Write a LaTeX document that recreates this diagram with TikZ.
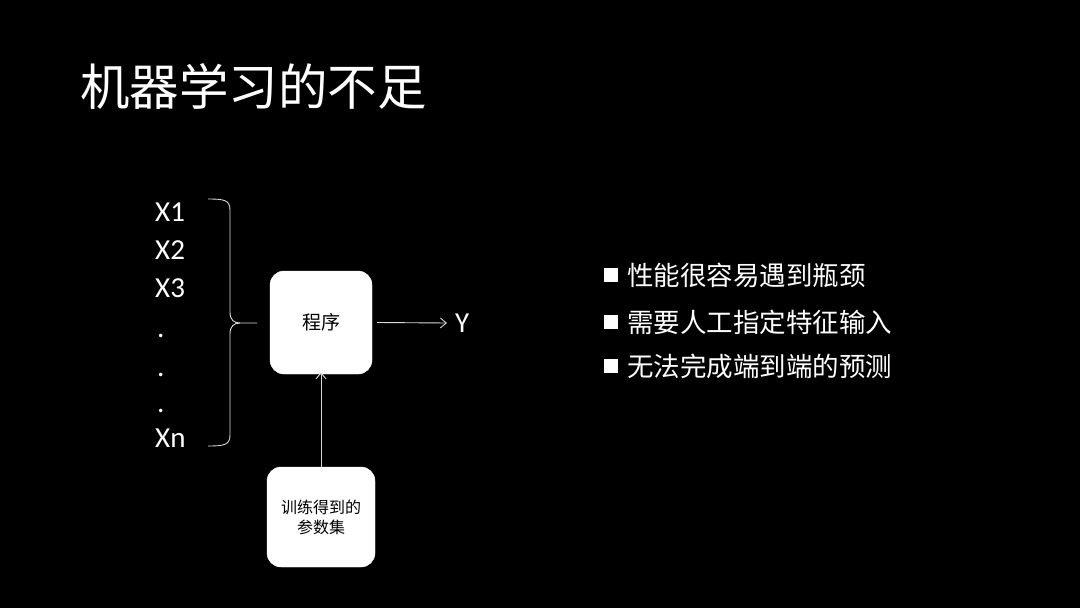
\documentclass[tikz,border=0pt]{standalone}
\usepackage{fontspec}
\setmainfont{Carlito}
\newfontfamily\cjk{Noto Sans CJK SC}
\usetikzlibrary{arrows.meta}
\begin{document}
\begin{tikzpicture}[x=1pt,y=-1pt,
  lbl/.style={text=white,font=\fontsize{29}{32}\selectfont,anchor=west,inner sep=0pt},
  bullet/.style={text=white,font=\cjk\fontsize{26.5}{30}\selectfont,anchor=west,inner sep=0pt},
  boxnode/.style={fill=white,rounded corners=14pt,draw=white,text=black,align=center,font=\cjk\fontsize{19}{23}\selectfont},
  conn/.style={draw=white!85!black,line width=0.9pt,-{Straight Barb[length=6pt,width=10pt,line width=0.9pt]}}
]
\fill[black] (0,0) rectangle (1080,608);
\useasboundingbox (0,0) rectangle (1080,608);
\node[text=white,font=\cjk\fontsize{49.5}{52}\selectfont,anchor=west,inner sep=0pt] (title) at (80,86) {机器学习的不足};
\node[lbl] (x1) at (155,212) {X1};
\node[lbl] (x2) at (155,250) {X2};
\node[lbl] (x3) at (155,288) {X3};
\node[lbl] (d1) at (157,336) {.};
\node[lbl] (d2) at (157,375) {.};
\node[lbl] (d3) at (157,411) {.};
\node[lbl] (xn) at (155,438) {Xn};
\draw[white!85!black,line width=0.9pt] (208,199) .. controls (224,199) and (230,200) .. (230,210) -- (230,312) .. controls (230,320) and (234,323) .. (240,323) -- (257,323);
\draw[white!85!black,line width=0.9pt] (208,446) .. controls (224,446) and (230,445) .. (230,435) -- (230,334) .. controls (230,326) and (234,323) .. (240,323);
\node[boxnode,minimum width=102pt,minimum height=103pt] (prog) at (321,322.5) {程序};
\node[boxnode,minimum width=108pt,minimum height=100pt,font=\cjk\fontsize{16}{20}\selectfont] (param) at (321,517) {训练得到的\\参数集};
\node[lbl] (y) at (455,323) {Y};
\draw[conn] ([xshift=5pt]prog.east) -- ([xshift=-8pt]y.west);
\draw[conn] (param.north) -- ([yshift=2pt]prog.south);
\foreach \i/\yy/\t in {1/275/性能很容易遇到瓶颈,2/322/需要人工指定特征输入,3/366/无法完成端到端的预测}{
  \fill[white] (604,{\yy-7}) rectangle (618,{\yy+7});
  \node[bullet] (b\i) at (627,\yy) {\t};
}
\end{tikzpicture}
\end{document}
